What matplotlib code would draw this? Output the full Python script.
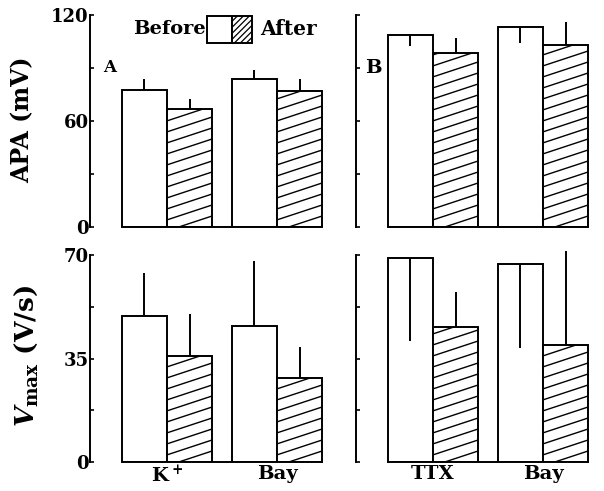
import numpy as np
import matplotlib
matplotlib.use("Agg")
import matplotlib.pyplot as plt
from matplotlib.patches import Rectangle

plt.rcParams['font.family'] = ['DejaVu Serif']
plt.rcParams['font.weight'] = 'bold'
plt.rcParams['mathtext.fontset'] = 'dejavuserif'

# ---- data ----
groups_a = ["K$^+$", "Bay"]
groups_b = ["TTX", "Bay"]

# APA (mV); error bars: negative value = drawn downward into the bar
apa_a_before = [77.5, 84.0]
apa_a_after = [67.0, 77.0]
apa_a_before_err = [6.0, 5.0]
apa_a_after_err = [5.5, 6.5]

apa_b_before = [108.5, 113.0]
apa_b_after = [98.5, 103.0]
apa_b_before_err = [-6.0, -9.0]
apa_b_after_err = [8.5, 13.0]

# Vmax (V/s)
vmax_a_before = [49.5, 46.0]
vmax_a_after = [36.0, 28.5]
vmax_a_before_err = [14.5, 22.0]
vmax_a_after_err = [14.0, 10.5]

vmax_b_before = [69.0, 67.0]
vmax_b_after = [45.5, 39.5]
vmax_b_before_err = [-28.0, -28.5]
vmax_b_after_err = [12.0, 32.0]

apa_ticks = [0, 30, 60, 90, 120]
apa_labels = ["0", "", "60", "", "120"]
vmax_ticks = [0, 17.5, 35, 52.5, 70]
vmax_labels = ["0", "", "35", "", "70"]

W, H = 604, 491
BAR_W = 0.41


def shallow_hatch(ax, patch, slope=0.33, gap=11, lw=1.0):
    # diagonal hatch lines with a shallow angle, clipped to the patch
    ext = patch.get_window_extent()
    x0, x1, y0, y1 = ext.x0, ext.x1, ext.y0, ext.y1
    inv = ax.transData.inverted()
    run = x1 - x0
    yc = y0 - slope * run
    while yc < y1:
        pts = inv.transform([[x0, yc], [x1, yc + slope * run]])
        ln, = ax.plot(pts[:, 0], pts[:, 1], color='black', lw=lw,
                      solid_capstyle='butt', clip_on=True)
        ln.set_clip_path(patch)
        yc += gap


def panel(rect, before, after, b_err, a_err, ylim, ticks, tlabels, xlabels):
    ax = fig.add_axes(rect)
    ax.set_xlim(-0.7, 1.5)
    ax.set_ylim(0, ylim)
    x = np.arange(len(before))
    b1 = ax.bar(x - BAR_W / 2, before, BAR_W, color='white',
                edgecolor='black', lw=1.4, zorder=2)
    b2 = ax.bar(x + BAR_W / 2, after, BAR_W, color='white',
                edgecolor='black', lw=1.4, zorder=2)
    for p in b2:
        shallow_hatch(ax, p)
    ax.vlines(x - BAR_W / 2, before, np.array(before) + np.array(b_err),
              color='black', lw=1.4, zorder=3, clip_on=False)
    ax.vlines(x + BAR_W / 2, after, np.array(after) + np.array(a_err),
              color='black', lw=1.4, zorder=3, clip_on=False)
    ax.plot([x[0] - BAR_W, x[-1] + BAR_W], [0, 0], color='black',
            lw=1.4, zorder=3, clip_on=False)
    for s in ['top', 'right', 'bottom']:
        ax.spines[s].set_visible(False)
    ax.spines['left'].set_linewidth(1.4)
    ax.set_yticks(ticks)
    ax.set_yticklabels(tlabels, fontsize=13)
    ax.tick_params(axis='y', direction='in', length=3, width=1.2, pad=1)
    if xlabels:
        ax.set_xticks(x)
        ax.set_xticklabels(xlabels, fontsize=14)
        ax.tick_params(axis='x', length=0, pad=2)
    else:
        ax.set_xticks([])
    return ax


fig = plt.figure(figsize=(W / 100, H / 100), dpi=100)

top_rect_y = (H - 227) / H
top_h = 212 / H
bot_rect_y = (H - 462) / H
bot_h = 207 / H
ax_w = 242 / W

ax1 = panel([90 / W, top_rect_y, ax_w, top_h], apa_a_before, apa_a_after,
            apa_a_before_err, apa_a_after_err, 120, apa_ticks, apa_labels, None)
ax2 = panel([356 / W, top_rect_y, ax_w, top_h], apa_b_before, apa_b_after,
            apa_b_before_err, apa_b_after_err, 120, apa_ticks,
            [""] * len(apa_ticks), None)
ax3 = panel([90 / W, bot_rect_y, ax_w, bot_h], vmax_a_before, vmax_a_after,
            vmax_a_before_err, vmax_a_after_err, 70, vmax_ticks, vmax_labels,
            groups_a)
ax4 = panel([356 / W, bot_rect_y, ax_w, bot_h], vmax_b_before, vmax_b_after,
            vmax_b_before_err, vmax_b_after_err, 70, vmax_ticks,
            [""] * len(vmax_ticks), groups_b)

# panel letters
ax1.text(0.08, 0.75, "A", transform=ax1.transAxes, fontsize=12,
         ha='center', va='center')
ax2.text(0.07, 0.75, "B", transform=ax2.transAxes, fontsize=14,
         ha='center', va='center')

# legend drawn by hand: "Before [ ][//] After"
box1 = Rectangle((0.483, 0.868), 0.103, 0.127, transform=ax1.transAxes,
                 facecolor='white', edgecolor='black', lw=1.4, clip_on=False)
box2 = Rectangle((0.588, 0.868), 0.083, 0.127, transform=ax1.transAxes,
                 facecolor='white', edgecolor='black', lw=1.4, clip_on=False)
ax1.add_patch(box1)
ax1.add_patch(box2)
shallow_hatch(ax1, box2, slope=1.0, gap=6, lw=0.9)
ax1.text(0.478, 0.935, "Before", transform=ax1.transAxes, fontsize=14,
         ha='right', va='center')
ax1.text(0.705, 0.935, "After", transform=ax1.transAxes, fontsize=14.5,
         ha='left', va='center')

# y labels
fig.text(22 / W, 1 - 120 / H, "APA (mV)", rotation=90, fontsize=17,
         ha='center', va='center')
fig.text(26 / W, 1 - 356 / H, r"$\mathit{V}_{\mathbf{max}}$ (V/s)",
         rotation=90, fontsize=19, ha='center', va='center')

fig.savefig("out.png", dpi=100)
